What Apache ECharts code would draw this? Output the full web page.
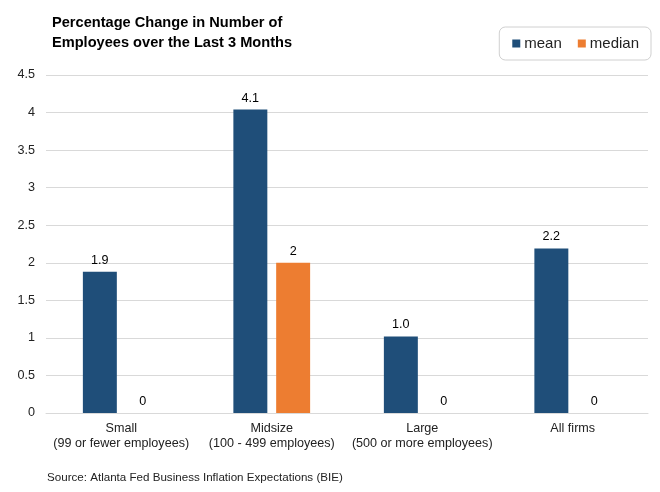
<!DOCTYPE html>
<html>
<head>
<meta charset="utf-8">
<script src="https://cdn.jsdelivr.net/npm/echarts@6/dist/echarts.min.js"></script>
<style>
  html, body { margin: 0; padding: 0; background: #fff; }
  #chart { width: 660px; height: 492px; }
</style>
</head>
<body>
<div id="chart"></div>
<script>
// data
const categories = [
  'Small\n(99 or fewer employees)',
  'Midsize\n(100 - 499 employees)',
  'Large\n(500 or more employees)',
  'All firms',
]
const meanValues = [1.88, 4.04, 1.02, 2.19]
const meanLabels = ['1.9', '4.1', '1.0', '2.2']
const medianValues = [0, 2, 0, 0]
const medianLabels = ['0', '2', '0', '0']

const font = 'Liberation Sans, Arial, sans-serif'
const chart = echarts.init(document.getElementById('chart'))

const option = {
  backgroundColor: '#fff',
  animation: false,
  textStyle: { fontFamily: font },
  title: [
    {
      text: 'Percentage Change in Number of\nEmployees over the Last 3 Months',
      left: 47,
      top: 8,
      textStyle: { fontSize: 14.6, fontWeight: 'bold', color: '#000', lineHeight: 20, fontFamily: font },
    },
    {
      text: 'Source: Atlanta Fed Business Inflation Expectations (BIE)',
      left: 42,
      top: 467,
      textStyle: { fontSize: 11.6, fontWeight: 'normal', color: '#222', fontFamily: font },
    },
  ],
  legend: {
    right: 9,
    top: 27,
    padding: [9, 12, 9, 13],
    borderColor: '#d0d0d0',
    borderWidth: 1,
    borderRadius: 6,
    itemWidth: 8,
    itemHeight: 8,
    itemGap: 16,
    icon: 'rect',
    textStyle: { fontSize: 15, color: '#222', padding: [0, 0, 0, -1], fontFamily: font },
    data: ['mean', 'median'],
  },
  grid: { left: 46, right: 12, top: 75, bottom: 79 },
  xAxis: {
    type: 'category',
    data: categories,
    axisLine: { show: true, lineStyle: { color: '#d9d9d9' } },
    axisTick: { show: false },
    axisLabel: { fontSize: 12.6, color: '#222', lineHeight: 15, margin: 8, interval: 0 },
  },
  yAxis: {
    type: 'value',
    min: 0,
    max: 4.5,
    interval: 0.5,
    axisLine: { show: false },
    axisTick: { show: false },
    axisLabel: { fontSize: 12.6, color: '#222', margin: 11 },
    splitLine: { lineStyle: { color: '#d9d9d9' } },
  },
  series: [
    {
      name: 'mean',
      type: 'bar',
      data: meanValues,
      itemStyle: { color: '#1f4e79' },
      barGap: '26%',
      barCategoryGap: '49%',
      label: {
        show: true,
        position: 'top',
        fontSize: 12.6,
        color: '#000',
        formatter: p => meanLabels[p.dataIndex],
      },
    },
    {
      name: 'median',
      type: 'bar',
      data: medianValues,
      itemStyle: { color: '#ed7d31' },
      label: {
        show: true,
        position: 'top',
        fontSize: 12.6,
        color: '#000',
        formatter: p => medianLabels[p.dataIndex],
      },
    },
  ],
}

option && chart.setOption(option)
</script>
</body>
</html>
